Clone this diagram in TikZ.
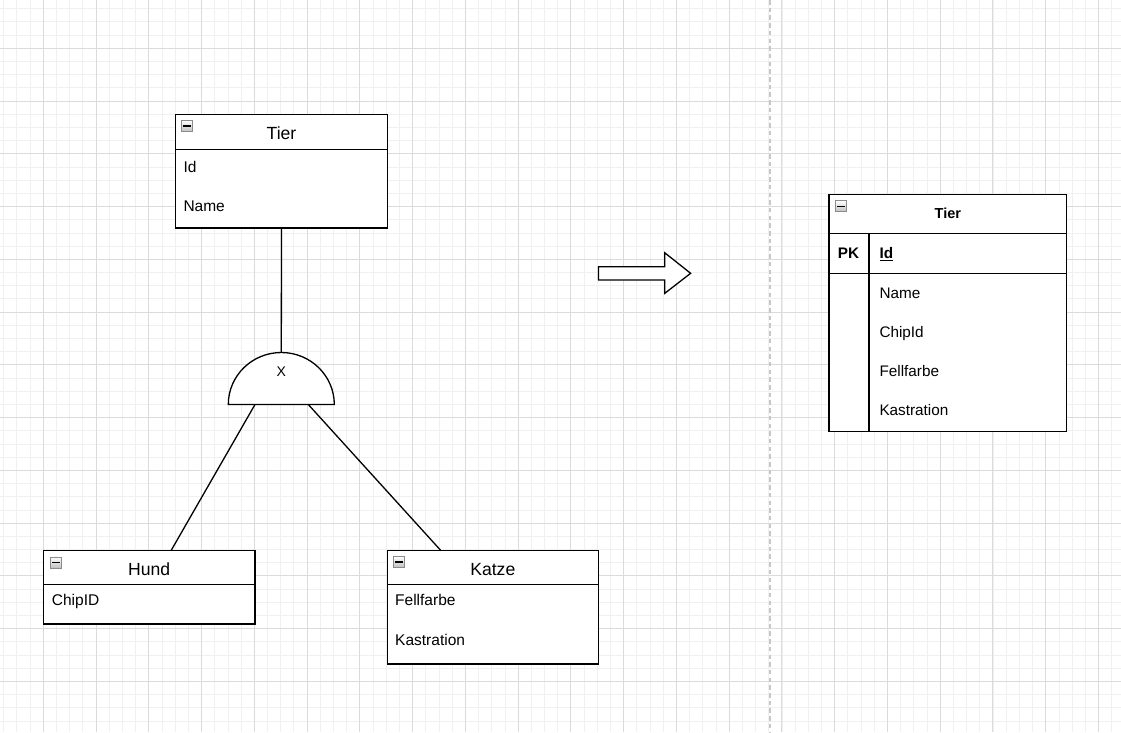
\documentclass[tikz,border=0pt]{standalone}
\usepackage{fontspec}
\setmainfont{Liberation Sans}
\usetikzlibrary{calc}
\begin{document}
\begin{tikzpicture}[x=1pt,y=-1pt,
  ent/.style={draw=black, line width=1.3pt, fill=white, inner sep=0pt, outer sep=0pt},
  sep/.style={draw=black, line width=1.3pt},
  ttl/.style={inner sep=0pt, anchor=base, font=\fontsize{17.6}{20}\selectfont},
  attr/.style={inner sep=0pt, anchor=base west, font=\fontsize{15.5}{18}\selectfont},
  rattr/.style={inner sep=0pt, anchor=base west, font=\fontsize{15.3}{18}\selectfont},
  icon/.style={draw=black!45, line width=0.8pt, top color=white, bottom color=black!25, minimum size=11pt, inner sep=0pt},
  minorgrid/.style={draw=black!6, line width=0.8pt},
  majorgrid/.style={draw=black!14, line width=1pt},
  conn/.style={draw=black, line width=1.3pt}
]
\useasboundingbox (0,0) rectangle (1121,732);
\fill[white] (0,0) rectangle (1121,732);
% grid
\foreach \i in {0,...,85} {\draw[minorgrid] (3.7+\i*13.19,0) -- (3.7+\i*13.19,732);}
\foreach \i in {0,...,55} {\draw[minorgrid] (0,8.7+\i*13.19) -- (1121,8.7+\i*13.19);}
\foreach \i in {0,...,21} {\draw[majorgrid] (43.3+\i*52.76,0) -- (43.3+\i*52.76,732);}
\foreach \i in {0,...,13} {\draw[majorgrid] (0,48.3+\i*52.76) -- (1121,48.3+\i*52.76);}
% dashed divider
\draw[draw=black!22, line width=1.2pt, dash pattern=on 4.5pt off 3.2pt] (770,0) -- (770,732);

% Tier (left)
\node[ent, minimum width=211.6pt, minimum height=113.3pt] (tier) at (281.5,171.35) {};
\draw[sep] (tier.west |- 0,149.3) -- (tier.east |- 0,149.3);
\node[icon] (tiericon) at (187,126) {};
\draw[line width=1.3pt] ($(tiericon.center)+(-3.8,0)$) -- ($(tiericon.center)+(3.8,0)$);
\node[ttl] (tiert) at (281.5,139.3) {Tier};
\node[attr] (tierid) at (183.3,172.3) {Id};
\node[attr] (tiername) at (183.3,211.7) {Name};

% Gate
\coordinate (gtop) at (281.3,352.5);
\coordinate (gbl) at (255,404.5);
\coordinate (gbr) at (308.3,404.5);
\draw[conn] (tier.south) -- (gtop);
\draw[conn, fill=white] (228.3,404.5) arc[start angle=180, end angle=360, x radius=53, y radius=52] -- cycle;
\node[inner sep=0pt, anchor=base, font=\fontsize{14}{16}\selectfont] (gx) at (281.3,376.7) {X};

% Hund
\node[ent, minimum width=211.7pt, minimum height=73.3pt] (hund) at (149.15,587.35) {};
\draw[sep] (hund.west |- 0,584.3) -- (hund.east |- 0,584.3);
\node[icon] (hundicon) at (56.2,562.5) {};
\draw[line width=1.3pt] ($(hundicon.center)+(-3.8,0)$) -- ($(hundicon.center)+(3.8,0)$);
\node[ttl] (hundt) at (149.15,575.7) {Hund};
\node[attr] (hundchip) at (51.7,605.7) {ChipID};
\coordinate (hundtop) at (171,550.7);

% Katze
\node[ent, minimum width=211pt, minimum height=113.3pt] (katze) at (492.8,607.35) {};
\draw[sep] (katze.west |- 0,584.7) -- (katze.east |- 0,584.7);
\node[icon] (katzeicon) at (398.8,562) {};
\draw[line width=1.3pt] ($(katzeicon.center)+(-3.8,0)$) -- ($(katzeicon.center)+(3.8,0)$);
\node[ttl] (katzet) at (492.8,575) {Katze};
\node[attr] (katzef) at (395,605) {Fellfarbe};
\node[attr] (katzek) at (395,645) {Kastration};
\coordinate (katzetop) at (441,550.7);

\draw[conn] (gbl) -- (hundtop);
\draw[conn] (gbr) -- (katzetop);

% Block arrow
\draw[line width=1.3pt, fill=white] (598.5,266.7) -- (664.8,266.7) -- (664.8,252.8) -- (690.6,273.3) -- (664.8,293.3) -- (664.8,280) -- (598.5,280) -- cycle;

% Right table
\node[ent, minimum width=237.7pt, minimum height=237.4pt] (rt) at (947.85,313) {};
\draw[sep] (rt.west |- 0,233.7) -- (rt.east |- 0,233.7);
\draw[sep] (rt.west |- 0,273.3) -- (rt.east |- 0,273.3);
\draw[sep] (869,233.7) -- (869,431.7);
\node[icon] (rticon) at (840.8,206.2) {};
\draw[line width=1.3pt] ($(rticon.center)+(-3.8,0)$) -- ($(rticon.center)+(3.8,0)$);
\node[inner sep=0pt, anchor=base, font=\fontsize{14.5}{17}\selectfont\bfseries] (rtt) at (947.85,218.3) {Tier};
\node[inner sep=0pt, anchor=base, font=\fontsize{15.3}{18}\selectfont\bfseries] (rpk) at (848.5,258.3) {PK};
\node[rattr, font=\fontsize{15.3}{18}\selectfont\bfseries] (rid) at (879.3,258.3) {\underline{Id}};
\node[rattr] (rname) at (879.3,298.3) {Name};
\node[rattr] (rchip) at (879.3,337) {ChipId};
\node[rattr] (rfell) at (879.3,376.7) {Fellfarbe};
\node[rattr] (rkast) at (879.3,415.9) {Kastration};
\end{tikzpicture}
\end{document}
